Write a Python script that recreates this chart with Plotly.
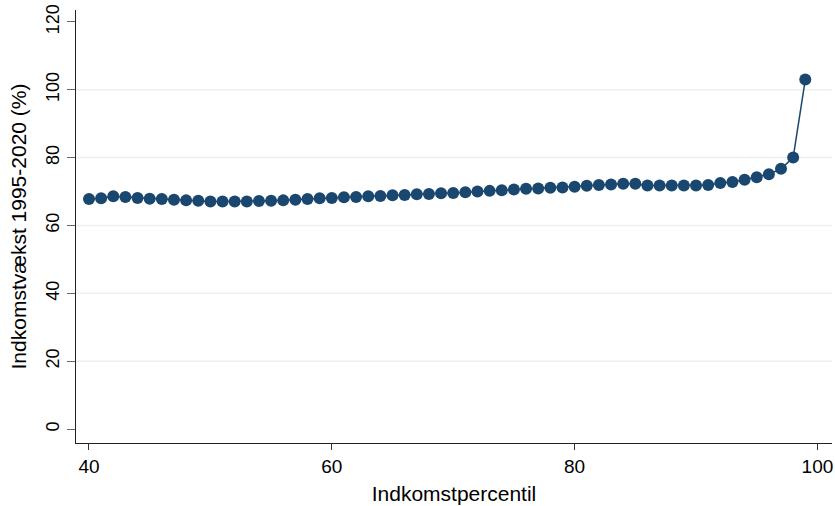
import plotly.graph_objects as go

percentiles = list(range(40, 100))
growth = [
    67.8, 68.0, 68.6, 68.4, 68.1, 67.9, 67.8, 67.6, 67.4, 67.3,
    67.1, 67.1, 67.1, 67.1, 67.2, 67.3, 67.4, 67.6, 67.8, 68.0,
    68.1, 68.3, 68.4, 68.6, 68.7, 68.9, 69.0, 69.2, 69.3, 69.5,
    69.6, 69.8, 70.0, 70.2, 70.4, 70.6, 70.8, 70.9, 71.1, 71.2,
    71.4, 71.7, 71.9, 72.1, 72.3, 72.3, 71.8, 71.8, 71.8, 71.8,
    71.8, 71.9, 72.5, 72.8, 73.5, 74.2, 75.1, 76.7, 80.0, 103.0,
]
x_ticks = [40, 60, 80, 100]
y_ticks = [0, 20, 40, 60, 80, 100, 120]
y_grid = [20, 40, 60, 80, 100]

navy = "#1a476f"
font_family = "Liberation Sans, Arial, sans-serif"

fig = go.Figure(go.Scatter(
    x=percentiles, y=growth, mode="lines+markers",
    line=dict(color=navy, width=1.5),
    marker=dict(color=navy, size=12),
))

for v in y_grid:
    fig.add_shape(type="line", xref="paper", x0=0, x1=1, yref="y", y0=v, y1=v,
                  line=dict(color="#eaf2f3", width=1.5), layer="below")

fig.update_layout(
    width=835, height=506,
    margin=dict(l=76, r=3, t=10, b=63, autoexpand=False),
    paper_bgcolor="white", plot_bgcolor="white",
    font=dict(family=font_family, size=18, color="black"),
    showlegend=False,
    xaxis=dict(
        range=[38.93, 101.2], tickvals=x_ticks, ticktext=[str(v) for v in x_ticks],
        showgrid=False, zeroline=False, automargin=False,
        showline=True, linecolor="#222222", linewidth=1.3,
        ticks="outside", ticklen=6, tickcolor="#333333", tickwidth=1,
        tickfont=dict(size=19), ticklabeloverflow="allow",
        title=dict(text="Indkomstpercentil", font=dict(size=21), standoff=10),
    ),
    yaxis=dict(
        range=[-4.1, 123.5], tickvals=y_ticks, ticktext=[str(v) for v in y_ticks],
        showgrid=False, zeroline=False,
        automargin=False,
        showline=True, linecolor="#222222", linewidth=1.3,
        ticks="outside", ticklen=8, tickcolor="#666666", tickwidth=1,
        tickangle=-90, tickfont=dict(size=18), ticklabelstandoff=1,
        ticklabeloverflow="allow",
        title=dict(text="Indkomstvækst 1995-2020 (%)", font=dict(size=21), standoff=10),
    ),
)

fig.write_html(
    "out.html",
    config={"displayModeBar": False},
    post_script="document.body.style.margin='0px';document.body.style.overflow='hidden';",
)
